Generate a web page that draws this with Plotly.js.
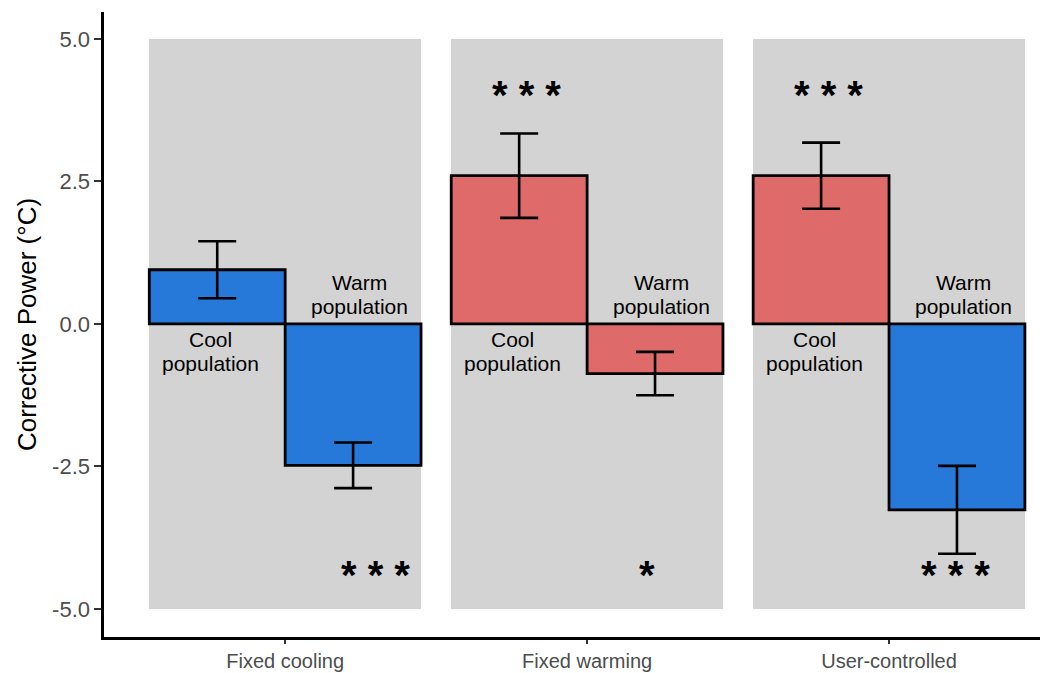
<!DOCTYPE html>
<html>
<head>
<meta charset="utf-8">
<script src="https://cdn.plot.ly/plotly-3.0.1.min.js"></script>
<style>html,body{margin:0;padding:0;background:#fff}#chart{width:1040px;height:673px}</style>
</head>
<body>
<div id="chart"></div>
<script>
// ---- data ----
const categories = ['Fixed cooling', 'Fixed warming', 'User-controlled'];
const coolValues = [0.95, 2.60, 2.60];
const coolErrors = [0.50, 0.74, 0.58];
const warmValues = [-2.48, -0.87, -3.26];
const warmErrors = [0.40, 0.38, 0.77];
const coolTreatment = ['cooling', 'warming', 'warming'];
const warmTreatment = ['cooling', 'warming', 'cooling'];
const coolSignificance = ['', '***', '***'];
const warmSignificance = ['***', '*', '***'];
const panelLow = -5, panelHigh = 5;

// ---- styling / layout helpers ----
const colourOf = {cooling: '#2679D9', warming: '#DF6A6A'};
const barW = 0.45;
const idx = categories.map((c, i) => i);
const fontFam = '"Liberation Sans", Arial, Helvetica, sans-serif';
const coolStarDx = [-0.2, -0.2, -0.2];
const warmStarDx = [0.3, 0.2, 0.22];
const starYTop = 4.1, starYBottom = -4.33;

const panels = {
  type: 'bar', x: idx, y: idx.map(() => panelHigh - panelLow), base: panelLow,
  width: 2 * barW, offset: -barW,
  marker: {color: '#D3D3D3', line: {width: 0}}, hoverinfo: 'skip', showlegend: false
};
const cool = {
  type: 'bar', x: idx, y: coolValues, width: barW, offset: -barW,
  marker: {color: coolTreatment.map(t => colourOf[t]), line: {color: '#000', width: 2.8}},
  error_y: {type: 'data', array: coolErrors, visible: true, color: '#000', thickness: 2.6, width: 19},
  showlegend: false
};
const warm = {
  type: 'bar', x: idx, y: warmValues, width: barW, offset: 0,
  marker: {color: warmTreatment.map(t => colourOf[t]), line: {color: '#000', width: 2.8}},
  error_y: {type: 'data', array: warmErrors, visible: true, color: '#000', thickness: 2.6, width: 19},
  showlegend: false
};

const annotations = [];
const labelFont = {family: fontFam, size: 21, color: '#000'};
const starFont = {family: fontFam, size: 40, color: '#000', weight: 'bold'};
idx.forEach(i => {
  annotations.push({x: i - barW / 2 - 0.022, y: 0, xref: 'x', yref: 'y', text: 'Cool', showarrow: false,
    yanchor: 'top', yshift: -2, font: labelFont});
  annotations.push({x: i - barW / 2 - 0.022, y: 0, xref: 'x', yref: 'y', text: 'population', showarrow: false,
    yanchor: 'top', yshift: -26, font: labelFont});
  annotations.push({x: i + barW / 2 + 0.022, y: 0, xref: 'x', yref: 'y', text: 'Warm', showarrow: false,
    yanchor: 'bottom', yshift: 28, font: labelFont});
  annotations.push({x: i + barW / 2 + 0.022, y: 0, xref: 'x', yref: 'y', text: 'population', showarrow: false,
    yanchor: 'bottom', yshift: 4, font: labelFont});
  if (coolSignificance[i]) annotations.push({x: i + coolStarDx[i], y: starYTop, xref: 'x', yref: 'y', yshift: -5,
    text: coolSignificance[i].split('').join(' '), showarrow: false, font: starFont});
  if (warmSignificance[i]) annotations.push({x: i + warmStarDx[i], y: starYBottom, xref: 'x', yref: 'y', yshift: -4,
    text: warmSignificance[i].split('').join(' '), showarrow: false, font: starFont});
});

const layout = {
  width: 1040, height: 673,
  margin: {l: 104, r: 0, t: 12, b: 36},
  paper_bgcolor: '#fff', plot_bgcolor: '#fff',
  barmode: 'overlay', bargap: 0,
  font: {family: fontFam},
  xaxis: {
    range: [-0.6, 2.5], tickvals: idx, ticktext: categories,
    showline: true, linecolor: '#000', linewidth: 2.6, showgrid: false, zeroline: false,
    ticks: 'outside', ticklen: 4, tickwidth: 2, tickcolor: '#333',
    tickfont: {family: fontFam, size: 20, color: '#4D4D4D'}
  },
  yaxis: {
    range: [-5.49, 5.47], tickvals: [-5, -2.5, 0, 2.5, 5], ticktext: ['-5.0', '-2.5', '0.0', '2.5', '5.0'],
    showline: true, linecolor: '#000', linewidth: 2.6, showgrid: false, zeroline: false,
    ticks: 'outside', ticklen: 7, tickwidth: 2, tickcolor: '#333',
    tickfont: {family: fontFam, size: 22, color: '#4D4D4D'},
    title: {text: 'Corrective Power (°C)', font: {family: fontFam, size: 26, color: '#000'}, standoff: 8}
  },
  annotations: annotations
};

Plotly.newPlot('chart', [panels, cool, warm], layout, {displayModeBar: false, staticPlot: true});
</script>
</body>
</html>
